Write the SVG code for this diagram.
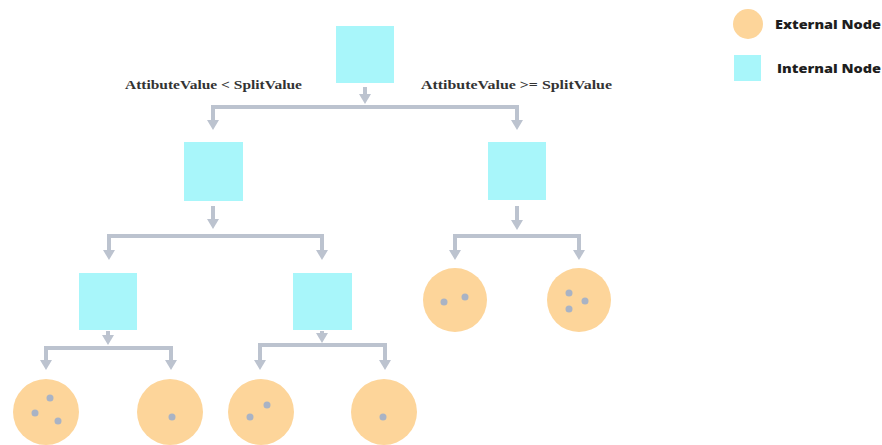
<svg xmlns="http://www.w3.org/2000/svg" width="882" height="445" viewBox="0 0 882 445">
  <style>
    .internal { fill: #A8F6FA; }
    .external { fill: #FDD59A; }
    .dot { fill: #A9B3C5; }
    .wire { fill: none; stroke: #BCC3CF; stroke-width: 4; stroke-linejoin: miter; }
    .cond { font-family: "Liberation Serif", "DejaVu Serif", serif; font-size: 13px; fill: #333333; font-weight: 600; }
    .legend { font-family: "Open Sans", "Liberation Sans", sans-serif; font-size: 13px; font-weight: 800; fill: #1E1E1E; }
  </style>
  <defs>
    <!-- arrowhead drawn along +x; the tip sits 4px past the line end -->
    <marker id="head" markerUnits="userSpaceOnUse" markerWidth="10" markerHeight="12" refX="6" refY="6" orient="auto-start-reverse" viewBox="0 0 10 12">
      <path d="M0,0 L10,6 L0,12 Z" fill="#BCC3CF"/>
    </marker>
  </defs>

  <rect width="882" height="445" fill="#FFFFFF"/>

  <!-- connectors -->
  <g id="connectors">
    <!-- root split -->
    <line class="wire" x1="365" y1="87" x2="365" y2="100" marker-end="url(#head)"/>
    <path class="wire" d="M213,126 V107 H517 V126" marker-start="url(#head)" marker-end="url(#head)"/>

    <!-- left internal split -->
    <line class="wire" x1="213" y1="206" x2="213" y2="225" marker-end="url(#head)"/>
    <path class="wire" d="M109,256 V236 H322 V256" marker-start="url(#head)" marker-end="url(#head)"/>

    <!-- right internal split -->
    <line class="wire" x1="517" y1="206" x2="517" y2="226" marker-end="url(#head)"/>
    <path class="wire" d="M455,256 V236 H579 V256" marker-start="url(#head)" marker-end="url(#head)"/>

    <!-- bottom-left split -->
    <line class="wire" x1="108" y1="331" x2="108" y2="341" marker-end="url(#head)"/>
    <path class="wire" d="M46,366 V348 H171 V366" marker-start="url(#head)" marker-end="url(#head)"/>

    <!-- bottom-right split -->
    <line class="wire" x1="322" y1="331" x2="322" y2="339" marker-end="url(#head)"/>
    <path class="wire" d="M260,366 V345 H385 V366" marker-start="url(#head)" marker-end="url(#head)"/>
  </g>

  <!-- split condition labels -->
  <text class="cond" x="125" y="89" textLength="177" lengthAdjust="spacingAndGlyphs">AttibuteValue &lt; SplitValue</text>
  <text class="cond" x="421" y="89" textLength="191" lengthAdjust="spacingAndGlyphs">AttibuteValue &gt;= SplitValue</text>

  <!-- internal nodes -->
  <g id="root"><rect class="internal" x="336" y="26" width="58" height="57"/></g>
  <g id="node-l"><rect class="internal" x="184" y="142" width="59" height="59"/></g>
  <g id="node-r"><rect class="internal" x="488" y="142" width="58" height="58"/></g>
  <g id="node-ll"><rect class="internal" x="79" y="273" width="58" height="57"/></g>
  <g id="node-lr"><rect class="internal" x="293" y="273" width="59" height="57"/></g>

  <!-- external nodes -->
  <g id="leaf-rl">
    <circle class="external" cx="455" cy="300" r="32"/>
    <circle class="dot" cx="444" cy="302" r="3.5"/>
    <circle class="dot" cx="465" cy="297" r="3.5"/>
  </g>
  <g id="leaf-rr">
    <circle class="external" cx="579" cy="300" r="32"/>
    <circle class="dot" cx="569" cy="293" r="3.5"/>
    <circle class="dot" cx="585" cy="301" r="3.5"/>
    <circle class="dot" cx="569" cy="309" r="3.5"/>
  </g>
  <g id="leaf-lll">
    <circle class="external" cx="46" cy="412" r="33"/>
    <circle class="dot" cx="50" cy="398" r="3.5"/>
    <circle class="dot" cx="35" cy="413" r="3.5"/>
    <circle class="dot" cx="58" cy="421" r="3.5"/>
  </g>
  <g id="leaf-llr">
    <circle class="external" cx="170" cy="412" r="33"/>
    <circle class="dot" cx="172" cy="417" r="3.5"/>
  </g>
  <g id="leaf-lrl">
    <circle class="external" cx="261" cy="412" r="33"/>
    <circle class="dot" cx="267" cy="405" r="3.5"/>
    <circle class="dot" cx="250" cy="417" r="3.5"/>
  </g>
  <g id="leaf-lrr">
    <circle class="external" cx="384" cy="412" r="33"/>
    <circle class="dot" cx="383" cy="417" r="3.5"/>
  </g>

  <!-- legend -->
  <g id="legend">
    <circle class="external" cx="748" cy="24" r="15"/>
    <text class="legend" x="775" y="29" textLength="106" lengthAdjust="spacingAndGlyphs">External Node</text>
    <rect class="internal" x="734" y="55" width="27" height="26"/>
    <text class="legend" x="777" y="73" textLength="104" lengthAdjust="spacingAndGlyphs">Internal Node</text>
  </g>
</svg>
